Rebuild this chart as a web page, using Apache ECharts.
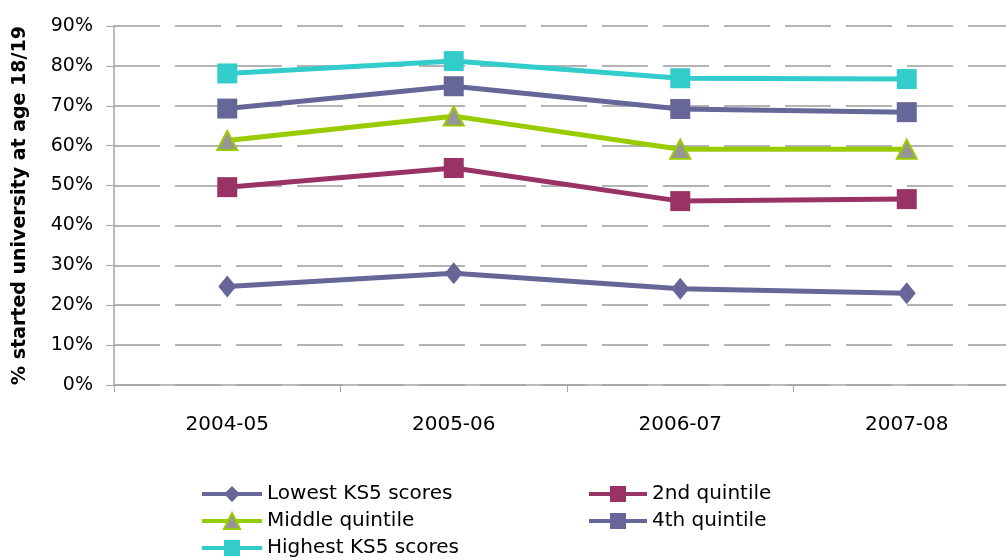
<!DOCTYPE html>
<html>
<head>
<meta charset="utf-8">
<script src="https://cdn.jsdelivr.net/npm/echarts@6/dist/echarts.min.js"></script>
<style>
  html, body { margin: 0; padding: 0; background: #fff; overflow: hidden; }
  /* the plot runs past the right edge of the window, so the canvas is wider than the page */
  #chart { width: 1021px; height: 560px; }
</style>
</head>
<body>
<div id="chart"></div>
<script>
// Share of pupils starting university at age 18/19, by KS5 attainment quintile
const years = ['2004-05', '2005-06', '2006-07', '2007-08'];
const lowest  = [24.7, 28.0, 24.1, 23.0];
const second  = [49.6, 54.4, 46.1, 46.6];
const middle  = [61.3, 67.4, 59.1, 59.1];
const fourth  = [69.3, 74.9, 69.2, 68.4];
const highest = [78.1, 81.2, 76.9, 76.7];
const yTicks = { min: 0, max: 90, step: 10 };

const FONT = "'DejaVu Sans', sans-serif";

const chart = echarts.init(document.getElementById('chart'), null, { renderer: 'canvas' });

function lineSeries(name, data, color, symbol, size, extra) {
  return Object.assign({
    name: name,
    type: 'line',
    data: data,
    symbol: symbol,
    symbolSize: size,
    showAllSymbol: true,
    lineStyle: { color: color, width: 5 },
    itemStyle: { color: color },
    emphasis: { disabled: true },
    animation: false
  }, extra || {});
}

// one legend block per entry so every entry sits at its own spot
function legendEntry(name, left, top, width) {
  return {
    left: left, top: top, padding: 0,
    itemWidth: width, itemHeight: 20,
    lineStyle: { width: 4 },
    textStyle: { fontFamily: FONT, fontSize: 20, color: '#000' },
    data: [name]
  };
}

chart.setOption({
  backgroundColor: '#fff',
  animation: false,
  grid: { left: 114, top: 26, bottom: 175, right: 1 },
  legend: [
    legendEntry('Lowest KS5 scores', 200, 484, 60),
    legendEntry('Middle quintile', 200, 511, 60),
    legendEntry('Highest KS5 scores', 200, 538, 60),
    legendEntry('2nd quintile', 587, 484, 58),
    legendEntry('4th quintile', 587, 511, 58)
  ],
  xAxis: {
    type: 'category',
    data: years,
    boundaryGap: true,
    axisLine: { lineStyle: { color: '#A6A6A6', width: 1.5 } },
    axisTick: { show: true, length: 7, lineStyle: { color: '#A6A6A6' } },
    axisLabel: { margin: 30, fontFamily: FONT, fontSize: 20, color: '#000' },
    splitLine: { show: false }
  },
  yAxis: {
    type: 'value',
    min: yTicks.min, max: yTicks.max, interval: yTicks.step,
    name: '% started university at age 18/19',
    nameLocation: 'middle',
    nameGap: 84,
    nameTextStyle: { fontFamily: FONT, fontSize: 19, fontWeight: 'bold', color: '#000' },
    axisLine: { show: true, lineStyle: { color: '#A6A6A6', width: 1.5 } },
    axisTick: { show: true, length: 8, lineStyle: { color: '#A6A6A6' } },
    axisLabel: { margin: 21, fontFamily: FONT, fontSize: 19, color: '#000', formatter: '{value}%' },
    splitLine: { show: true, lineStyle: { color: '#9A9A9A', width: 1.5, type: [46, 15] } }
  },
  series: [
    lineSeries('Lowest KS5 scores', lowest, '#666699', 'diamond', [18, 22]),
    lineSeries('2nd quintile', second, '#993366', 'rect', 20),
    lineSeries('Middle quintile', middle, '#99CC00', 'triangle', [20, 19], {
      itemStyle: { color: '#969696', borderColor: '#99CC00', borderWidth: 2 }
    }),
    lineSeries('4th quintile', fourth, '#666699', 'rect', 20),
    lineSeries('Highest KS5 scores', highest, '#33CCCC', 'rect', 20)
  ]
});
</script>
</body>
</html>
